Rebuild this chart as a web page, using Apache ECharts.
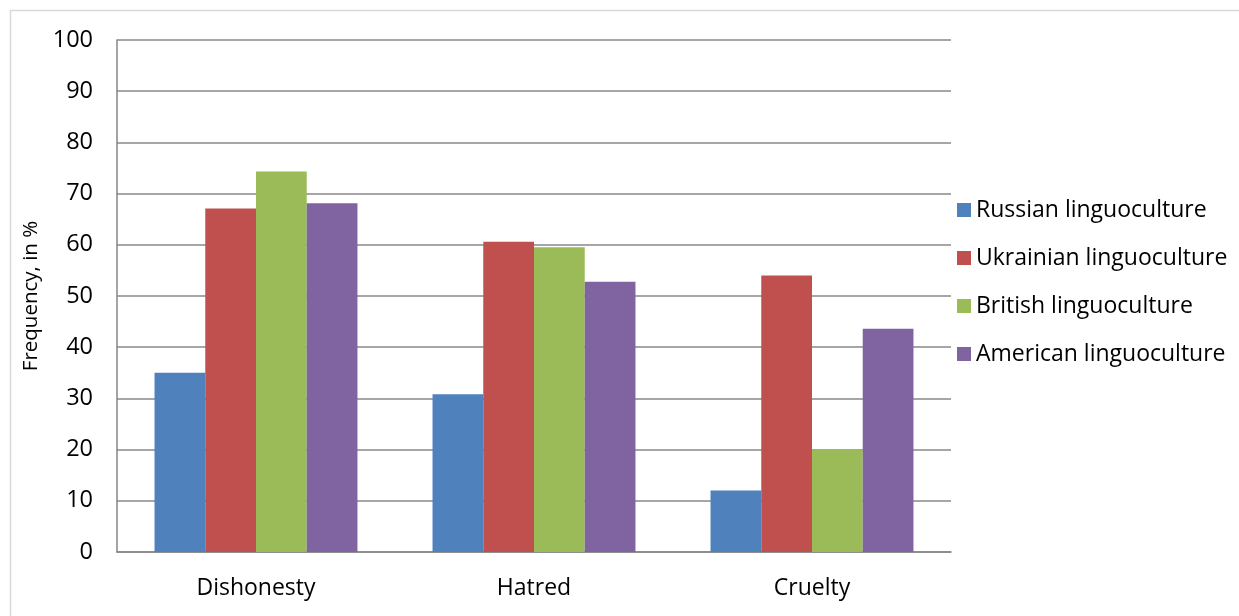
<!DOCTYPE html>
<html><head><meta charset="utf-8">
<script src="https://cdn.jsdelivr.net/npm/echarts@6/dist/echarts.min.js"></script>
<style>html,body{margin:0;padding:0;background:#fff}#c{width:1239px;height:616px}</style>
</head><body><div id="c"></div>
<script>
var categories = ['Dishonesty', 'Hatred', 'Cruelty'];
var seriesNames = ['Russian linguoculture', 'Ukrainian linguoculture', 'British linguoculture', 'American linguoculture'];
var russian = [35, 30.8, 12];
var ukrainian = [67.1, 60.6, 54];
var british = [74.3, 59.5, 20.1];
var american = [68.1, 52.8, 43.6];
var yTicks = [0, 10, 20, 30, 40, 50, 60, 70, 80, 90, 100];
var colors = ['#4F81BD', '#C0504D', '#9BBB59', '#8064A2'];
var FONT = 'Open Sans';
var chart = echarts.init(document.getElementById('c'), null, {renderer: 'canvas'});
var values = [russian, ukrainian, british, american];
chart.setOption({
  animation: false,
  color: colors,
  textStyle: {fontFamily: FONT},
  graphic: [{type: 'rect', shape: {x: 10.5, y: 10.5, width: 1240, height: 640}, style: {fill: 'none', stroke: '#d9d9d9', lineWidth: 1.5}, silent: true}],
  grid: {left: 117, top: 40, right: 288, bottom: 64},
  legend: {
    orient: 'vertical', left: 952, top: 193,
    itemWidth: 14, itemHeight: 14, itemGap: 24, icon: 'rect',
    textStyle: {fontFamily: FONT, fontSize: 23, color: '#000', lineHeight: 24},
    data: seriesNames
  },
  xAxis: {
    type: 'category', data: categories,
    axisLine: {lineStyle: {color: '#868686', width: 1.5}},
    axisTick: {show: false},
    axisLabel: {fontFamily: FONT, fontSize: 23, color: '#000', margin: 25}
  },
  yAxis: {
    type: 'value', min: 0, max: 100, interval: 10,
    name: 'Frequency, in %', nameLocation: 'middle', nameGap: 73, nameRotate: 90,
    nameTextStyle: {fontFamily: FONT, fontSize: 20.5, color: '#000'},
    axisLine: {show: true, lineStyle: {color: '#868686', width: 1.5}},
    axisTick: {show: false},
    axisLabel: {fontFamily: FONT, fontSize: 23.5, color: '#000', margin: 24,
      formatter: function (v) { return yTicks.indexOf(v) >= 0 ? String(v) : ''; }},
    splitLine: {lineStyle: {color: '#898989', width: 1.5}}
  },
  series: seriesNames.map(function (n, i) {
    return {name: n, type: 'bar', data: values[i], barGap: '0%', barCategoryGap: '27%'};
  })
});
</script></body></html>
